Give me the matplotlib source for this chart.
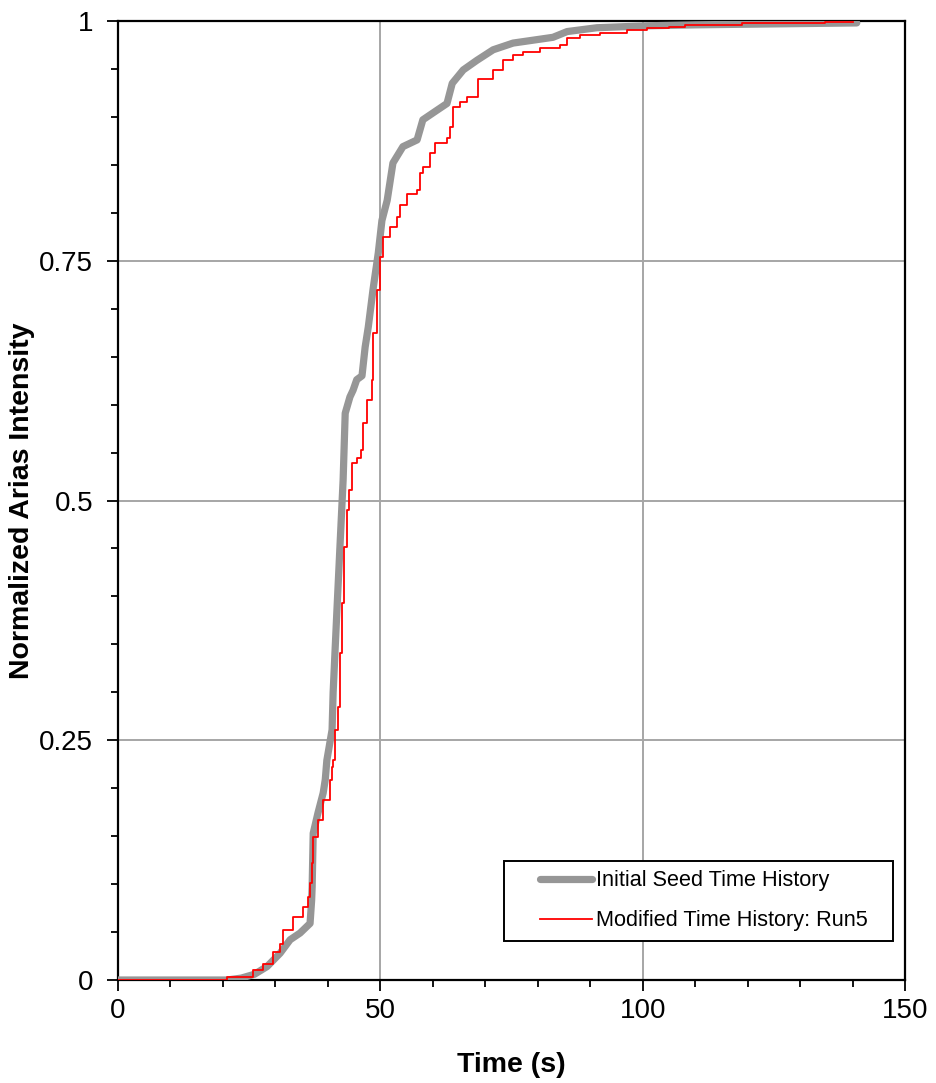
import numpy as np
import matplotlib
matplotlib.use("Agg")
import matplotlib.pyplot as plt
from matplotlib.ticker import MultipleLocator, FuncFormatter
from matplotlib.legend_handler import HandlerLine2D

plt.rcParams['font.family'] = ['Liberation Sans', 'DejaVu Sans']

# initial seed record: time (s) and normalized Arias intensity
t_seed = [0, 20.8, 23.5, 26.0, 28.4, 30.9, 32.8, 34.7, 36.6, 36.9, 37.0, 37.2, 38.1, 39.1,
          39.5, 39.8, 40.8, 41.0, 41.7, 42.3, 42.9, 43.3, 44.2, 44.8, 45.5, 46.5, 47.1,
          47.7, 48.6, 49.6, 50.3, 51.3, 52.4, 54.3, 57.0, 58.1, 60.8, 62.7, 63.7, 65.8,
          68.4, 71.5, 75.3, 82.9, 85.6, 91.3, 100.8, 110.0, 125.0, 140.8]
ai_seed = [0, 0, 0.002, 0.006, 0.014, 0.028, 0.042, 0.049, 0.059, 0.083, 0.097, 0.153, 0.174, 0.195,
           0.209, 0.229, 0.261, 0.30, 0.383, 0.452, 0.521, 0.591, 0.608, 0.615, 0.626, 0.630, 0.660,
           0.681, 0.720, 0.758, 0.792, 0.813, 0.852, 0.869, 0.876, 0.897, 0.907, 0.914, 0.935, 0.949,
           0.959, 0.970, 0.977, 0.983, 0.989, 0.993, 0.995, 0.996, 0.997, 0.998]

# modified record, run 5
t_run5 = [0, 20.7, 23.9, 25.8, 27.6, 29.6, 30.9, 31.5, 33.4, 35.3, 36.2, 36.6, 36.9, 37.2, 38.1,
          39.1, 40.4, 40.7, 41.0, 41.4, 42.0, 42.3, 42.6, 43.0, 43.6, 44.1, 44.6, 45.5, 46.4,
          46.7, 47.4, 48.4, 48.6, 49.3, 49.9, 50.5, 51.8, 53.1, 53.7, 55.1, 57.0, 57.6, 58.1,
          59.5, 60.4, 62.7, 63.3, 63.9, 65.2, 66.5, 68.6, 70.3, 71.5, 73.4, 75.3, 77.2, 80.4,
          84.2, 85.6, 88.0, 91.9, 97.0, 100.8, 105.0, 108.0, 119.0, 134.7, 140.0]
ai_run5 = [0, 0.003, 0.003, 0.010, 0.017, 0.029, 0.038, 0.052, 0.066, 0.076, 0.087, 0.101, 0.122, 0.149, 0.167,
           0.188, 0.209, 0.222, 0.229, 0.261, 0.285, 0.341, 0.393, 0.452, 0.490, 0.511, 0.539, 0.544, 0.553,
           0.581, 0.605, 0.626, 0.675, 0.720, 0.754, 0.775, 0.785, 0.796, 0.808, 0.820, 0.824, 0.841, 0.848,
           0.862, 0.873, 0.878, 0.889, 0.910, 0.916, 0.921, 0.940, 0.940, 0.949, 0.959, 0.965, 0.968, 0.972,
           0.975, 0.982, 0.985, 0.987, 0.991, 0.993, 0.994, 0.996, 0.998, 0.999, 0.999]


class ShortHandle(HandlerLine2D):
    # legend line drawn over the right part of the handle box only
    def create_artists(self, legend, orig_handle, xdescent, ydescent, width, height, fontsize, trans):
        arts = super().create_artists(legend, orig_handle, xdescent, ydescent, width, height,
                                      fontsize, trans)
        for a in arts:
            xd = np.asarray(a.get_xdata(), dtype=float)
            if len(xd) >= 2:
                xd = np.linspace(xd[0] + 0.33 * width, xd[-1], len(xd))
                a.set_xdata(xd)
        return arts


fig = plt.figure(figsize=(9.36, 10.83), dpi=100)
ax = fig.add_axes([0.1261, 0.0951, 0.8408, 0.8855])

ax.plot(t_seed, ai_seed, color='#969696', lw=5.2, solid_capstyle='round',
        label='Initial Seed Time History', zorder=3)
ax.plot(t_run5, ai_run5, color='#ff0000', lw=1.3, drawstyle='steps-post',
        label='Modified Time History: Run5', zorder=4)

ax.set_xlim(0, 150)
ax.set_ylim(0, 1)
ax.xaxis.set_major_locator(MultipleLocator(50))
ax.xaxis.set_minor_locator(MultipleLocator(10))
ax.yaxis.set_major_locator(MultipleLocator(0.25))
ax.yaxis.set_minor_locator(MultipleLocator(0.05))
ax.yaxis.set_major_formatter(FuncFormatter(lambda v, p: f"{v:g}"))

ax.grid(True, which='major', color='#a6a6a6', lw=1.4)
ax.set_axisbelow(True)
ax.tick_params(which='major', direction='out', length=8, width=1.3, labelsize=20)
ax.tick_params(axis='x', which='major', pad=5)
ax.tick_params(axis='y', which='major', pad=10)
ax.tick_params(which='minor', direction='out', length=5, width=1.3)
for s in ax.spines.values():
    s.set_linewidth(1.6)

ax.set_xlabel('Time (s)', fontsize=20.5, fontweight='bold', labelpad=20)
ax.set_ylabel('Normalized Arias Intensity', fontsize=20.5, fontweight='bold')
ax.yaxis.set_label_coords(-0.1055, 0.5)

leg = ax.legend(loc='lower left', bbox_to_anchor=(0.4905, 0.0407, 0.4943, 0.0834),
                mode='expand', borderaxespad=0,
                fontsize=15.6, fancybox=False, edgecolor='black', framealpha=1,
                borderpad=0.45, handlelength=3.6, labelspacing=0.87, handletextpad=0.2,
                handler_map={matplotlib.lines.Line2D: ShortHandle()})
leg.get_frame().set_linewidth(1.4)

fig.savefig('out.png', dpi=100)
